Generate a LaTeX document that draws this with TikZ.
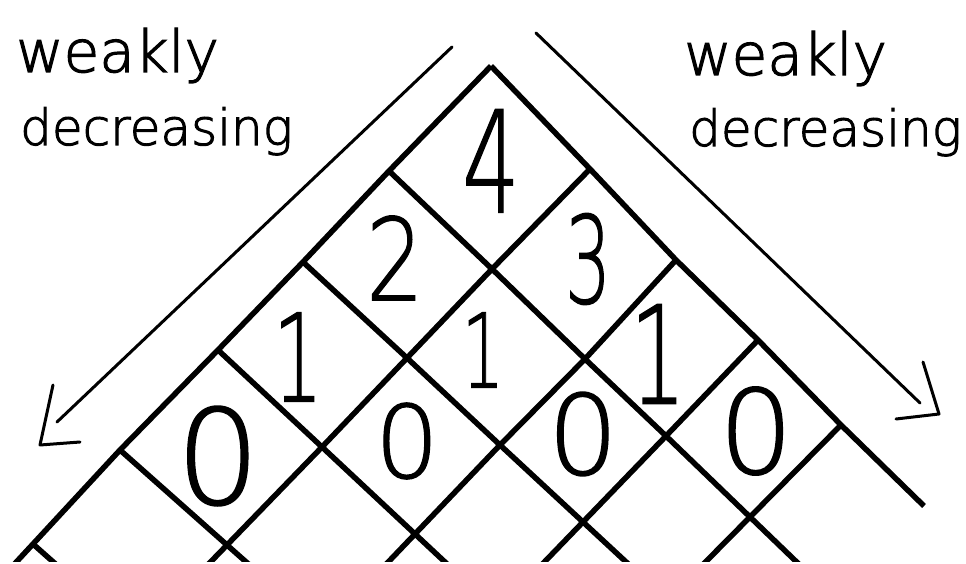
\documentclass[tikz,border=0pt]{standalone}
\usepackage{fontspec}
\usetikzlibrary{calc}
\IfFontExistsTF{DejaVu Sans ExtraLight}{%
  \newfontfamily\hand[FakeBold=1.2]{DejaVu Sans ExtraLight}%
  \newfontfamily\handw[FakeBold=2]{DejaVu Sans ExtraLight}}{%
  \newfontfamily\hand{Fira Sans}\newfontfamily\handw{Fira Sans}}
\newcommand\dg[3]{{\fontsize{#1}{#1}\selectfont\scalebox{#2}[1]{#3}}}
\begin{document}
\begin{tikzpicture}[x=1pt,y=-1pt,
  gridline/.style={line width=5.5pt,line join=round},
  arrline/.style={line width=3pt,line cap=round,line join=round},
  dig/.style={inner sep=0pt,font=\hand},
  word/.style={inner sep=0pt,anchor=base west}]
\useasboundingbox (0,0) rectangle (966,564);
% grid points
\coordinate (P00) at (491,66);
\coordinate (P10) at (389,171);
\coordinate (P20) at (303,262);
\coordinate (P30) at (218,350);
\coordinate (P40) at (120,450);
\coordinate (P50) at (33,544);
\coordinate (P01) at (590,169);
\coordinate (P02) at (676,260);
\coordinate (P03) at (758,340);
\coordinate (P04) at (841,425);
\coordinate (E) at (924,506);
\coordinate (P11) at (492,269);
\coordinate (P12) at (585,359);
\coordinate (P13) at (666,436);
\coordinate (P14) at (750,517);
\coordinate (P21) at (407,358);
\coordinate (P22) at (500,445);
\coordinate (P23) at (583,522);
\coordinate (P31) at (322,447);
\coordinate (P32) at (415,534);
\coordinate (P41) at (227,545);
\begin{scope}
\clip (0,0) rectangle (966,561);
% down-left lines
\draw[gridline] (P00) -- (P10) -- (P20) -- (P30) -- (P40) -- (P50) -- ($(P40)!2!(P50)$);
\draw[gridline] (P01) -- (P11) -- (P21) -- (P31) -- (P41) -- ($(P31)!2!(P41)$);
\draw[gridline] (P02) -- (P12) -- (P22) -- (P32) -- ($(P22)!2!(P32)$);
\draw[gridline] (P03) -- (P13) -- (P23) -- ($(P13)!2!(P23)$);
\draw[gridline] (P04) -- (P14) -- ($(P04)!2!(P14)$);
% down-right lines
\draw[gridline] (P00) -- (P01) -- (P02) -- (P03) -- (P04) -- (E);
\draw[gridline] (P10) -- (P11) -- (P12) -- (P13) -- (P14) -- ($(P13)!2!(P14)$);
\draw[gridline] (P20) -- (P21) -- (P22) -- (P23) -- ($(P22)!2!(P23)$);
\draw[gridline] (P30) -- (P31) -- (P32) -- ($(P31)!2!(P32)$);
\draw[gridline] (P40) -- (P41) -- ($(P40)!2!(P41)$);
\draw[gridline] (P50) -- ($(P50)+(P41)-(P40)$);
\end{scope}
% arrows
\coordinate (La) at (452,47);
\coordinate (Lb) at (57,422);
\coordinate (Lh1) at (53,385);
\coordinate (Lt) at (40,445);
\coordinate (Lh2) at (80,442);
\draw[arrline] (La) -- (Lb);
\draw[arrline] (Lh1) -- (Lt) -- (Lh2);
\coordinate (Ra) at (536,33);
\coordinate (Rb) at (920,403);
\coordinate (Rh1) at (923,362);
\coordinate (Rt) at (939,414);
\coordinate (Rh2) at (896,419);
\draw[arrline] (Ra) -- (Rb);
\draw[arrline] (Rh1) -- (Rt) -- (Rh2);
% labels
\node[word,font=\handw\fontsize{58}{58}\selectfont] (wl) at (16,72) {weakly};
\node[word,font=\handw\fontsize{50}{50}\selectfont] (dl) at (20,145) {decreasing};
\node[word,font=\handw\fontsize{58}{58}\selectfont] (wr) at (684,75) {weakly};
\node[word,font=\handw\fontsize{50}{50}\selectfont] (dr) at (689,146) {decreasing};
% digits
\node[dig] (n4) at (491,161) {\dg{141}{0.64}{4}};
\node[dig] (n2) at (395,258) {\dg{114}{0.8}{2}};
\node[dig] (n3) at (588,259) {\dg{121}{0.6}{3}};
\node[dig] (n1a) at (298,357) {\dg{122}{0.65}{1}};
\node[dig] (n1b) at (483,350) {\dg{103}{0.65}{1}};
\node[dig] (n1c) at (658,354) {\dg{136}{0.65}{1}};
\node[dig] (n0a) at (218,456) {\dg{132}{1}{0}};
\node[dig] (n0b) at (407,441) {\dg{101}{1}{0}};
\node[dig] (n0c) at (583,434) {\dg{111}{1}{0}};
\node[dig] (n0d) at (756,431) {\dg{117}{1}{0}};
\end{tikzpicture}
\end{document}
